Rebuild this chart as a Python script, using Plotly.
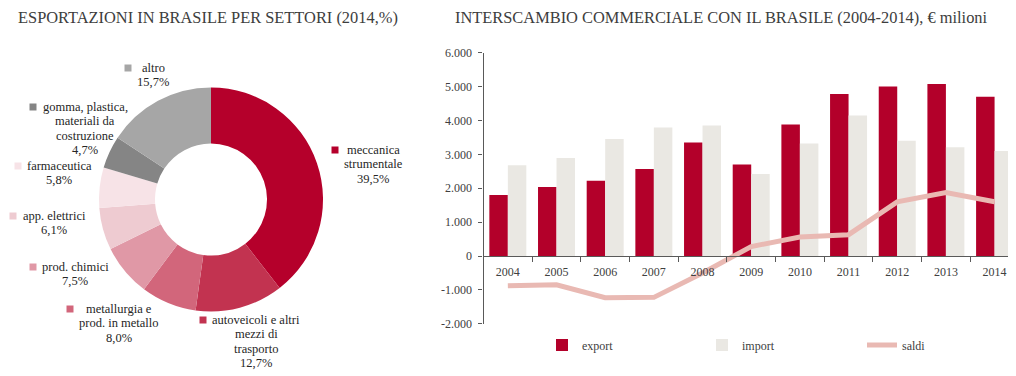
import plotly.graph_objects as go

# page body has an 8px default margin, so the figure is 8px smaller than the window
OFF = 8
FW, FH = 1016 - OFF, 376 - OFF

# ---------------- data ----------------
sectors = ["meccanica strumentale", "autoveicoli e altri mezzi di trasporto",
           "metallurgia e prod. in metallo", "prod. chimici", "app. elettrici",
           "farmaceutica", "gomma, plastica, materiali da costruzione", "altro"]
sector_share = [39.5, 12.7, 8.0, 7.5, 6.1, 5.8, 4.7, 15.7]
sector_lines = [["meccanica", "strumentale"],
                ["autoveicoli e altri", "mezzi di", "trasporto"],
                ["metallurgia e", "prod. in metallo"],
                ["prod. chimici"],
                ["app. elettrici"],
                ["farmaceutica"],
                ["gomma, plastica,", "materiali da", "costruzione"],
                ["altro"]]

years = ["2004", "2005", "2006", "2007", "2008", "2009", "2010", "2011", "2012", "2013", "2014"]
export = [1800, 2040, 2220, 2570, 3350, 2700, 3880, 4780, 5000, 5080, 4700]
imports = [2680, 2890, 3450, 3790, 3850, 2420, 3320, 4150, 3400, 3210, 3100]
saldi = [-880, -850, -1230, -1220, -500, 280, 560, 630, 1600, 1870, 1600]

y_tickvals = [-2000, -1000, 0, 1000, 2000, 3000, 4000, 5000, 6000]
y_ticktext = ["-2.000", "-1.000", "0", "1.000", "2.000", "3.000", "4.000", "5.000", "6.000"]

# ---------------- styles ----------------
sector_colors = ["#B5002B", "#C23350", "#D2667B", "#E098A6", "#EECBD1",
                 "#F7E3E7", "#858585", "#A6A6A6"]
# label layout in window pixels: (square cx, square cy, text cx, first line cy)
label_pos = [(335, 150, 373, 150), (203, 320, 256, 320), (70, 309, 119, 309),
             (33, 267, 75, 267), (13, 216, 54, 216), (18, 166, 59, 166),
             (33, 107, 85, 107), (128, 68, 153, 68)]
LINE_H = 14.3
SERIF = "Liberation Serif"
C_EXP, C_IMP, C_SAL = "#B3002A", "#EAE8E3", "#E9B9B3"
AX = "#595959"

def px(x):
    return (x - OFF) / FW

def py(y):
    return 1 - (y - OFF) / FH

fig = go.Figure()

# donut
fig.add_trace(go.Pie(
    labels=sectors, values=sector_share, hole=0.5, sort=False,
    direction="clockwise", rotation=0, textinfo="none",
    marker=dict(colors=sector_colors, line=dict(width=0)),
    domain=dict(x=[px(99), px(323)], y=[py(311.5), py(87.5)]),
    showlegend=False))

# bars + line
fig.add_trace(go.Bar(x=years, y=export, name="export", marker_color=C_EXP,
                     marker_line_width=0))
fig.add_trace(go.Bar(x=years, y=imports, name="import", marker_color=C_IMP,
                     marker_line_width=0))
fig.add_trace(go.Scatter(x=years, y=saldi, name="saldi", mode="lines",
                         line=dict(color=C_SAL, width=5)))

annotations = []
shapes = []
for lines, val, col, (sx, sy, tx, ty) in zip(sector_lines, sector_share, sector_colors, label_pos):
    all_lines = lines + [f"{val:.1f}".replace(".", ",") + "%"]
    for i, t in enumerate(all_lines):
        annotations.append(dict(x=px(tx), y=py(ty + i * LINE_H), xref="paper", yref="paper",
                                text=t, showarrow=False, xanchor="center", yanchor="middle",
                                font=dict(family=SERIF, size=12.5, color="#262626")))
    shapes.append(dict(type="rect", xref="paper", yref="paper",
                       x0=px(sx - 3.5), x1=px(sx + 3.5), y0=py(sy + 3.5), y1=py(sy - 3.5),
                       fillcolor=col, line=dict(width=0)))

annotations.append(dict(x=px(208), y=py(17.5), xref="paper", yref="paper",
                        text="ESPORTAZIONI IN BRASILE PER SETTORI (2014,%)", showarrow=False,
                        xanchor="center", yanchor="middle",
                        font=dict(family=SERIF, size=16.4, color="#3D3D3D")))
annotations.append(dict(x=px(721), y=py(17.5), xref="paper", yref="paper",
                        text="INTERSCAMBIO COMMERCIALE CON IL BRASILE (2004-2014), € milioni",
                        showarrow=False, xanchor="center", yanchor="middle",
                        font=dict(family=SERIF, size=16.4, color="#3D3D3D")))

ydom = [py(323.8), py(52.7)]
zero_pos = ydom[0] + (ydom[1] - ydom[0]) * 2000 / 8000

fig.update_layout(
    width=FW, height=FH, margin=dict(l=0, r=0, t=0, b=0, autoexpand=False),
    paper_bgcolor="white", plot_bgcolor="white",
    barmode="group", bargap=0.24, bargroupgap=0,
    font=dict(family=SERIF, size=12, color="#404040"),
    annotations=annotations, shapes=shapes,
    xaxis=dict(domain=[px(483.5), 1.0], anchor="free", position=zero_pos,
               range=[-0.5, 10.44], type="category", automargin=False,
               showline=True, linecolor=AX, linewidth=1.3,
               ticks="outside", tickson="boundaries", ticklen=5, tickcolor=AX, tickwidth=1.3,
               showgrid=False, zeroline=False, ticklabelstandoff=4,
               tickfont=dict(family=SERIF, size=12, color="#404040")),
    yaxis=dict(domain=ydom, range=[-2000, 6000], tickvals=y_tickvals, ticktext=y_ticktext,
               automargin=False,
               showline=True, linecolor=AX, linewidth=1.3,
               ticks="outside", ticklen=4, tickcolor=AX, tickwidth=1.3,
               showgrid=False, zeroline=False, ticklabelstandoff=4,
               tickfont=dict(family=SERIF, size=12, color="#404040")),
    legend=dict(orientation="h", x=px(542), xanchor="left", y=py(345), yanchor="middle",
                entrywidth=115, entrywidthmode="pixels", traceorder="normal",
                font=dict(family=SERIF, size=12, color="#404040"),
                bgcolor="rgba(0,0,0,0)"),
)

fig.write_html("out.html")
